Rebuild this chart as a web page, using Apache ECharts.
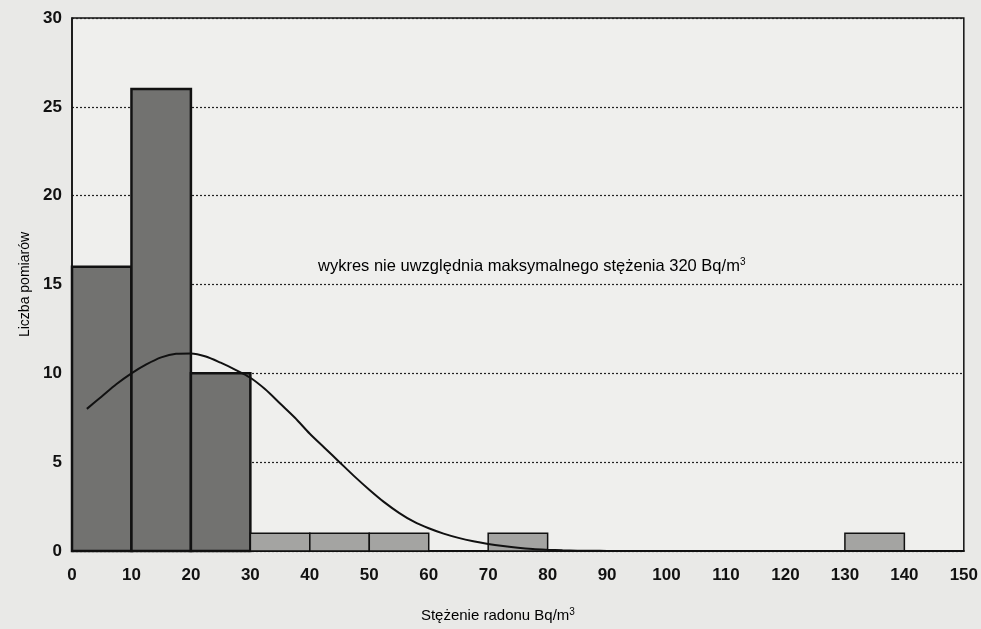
<!DOCTYPE html>
<html><head><meta charset="utf-8">
<script src="https://cdn.jsdelivr.net/npm/echarts@6/dist/echarts.min.js"></script>
<style>html,body{margin:0;padding:0;background:#e9e9e7;}#c{width:981px;height:629px;}</style>
</head><body><div id="c"></div>
<script>
// Histogram bins (Bq/m3) and counts
var binLow  = [0, 10, 20, 30, 40, 50, 70, 130];
var binHigh = [10, 20, 30, 40, 50, 60, 80, 140];
var counts  = [16, 26, 10, 1, 1, 1, 1, 1];
// Fitted normal curve
var curveX = [2.5, 5, 7.5, 10, 12.5, 15, 17.5, 20, 22.5, 25, 27.5, 30, 32.5, 35, 37.5, 40, 42.5, 45, 47.5, 50,
              52.5, 55, 57.5, 60, 62.5, 65, 67.5, 70, 72.5, 75, 77.5, 80, 82.5, 85, 87.5, 90, 92.5, 95, 97.5, 100,
              105, 110, 115, 120, 125, 130, 135, 140, 145, 148];
var curveY = [8.0, 8.7, 9.4, 10.0, 10.5, 10.9, 11.1, 11.12, 10.95, 10.6, 10.2, 9.75, 9.1, 8.3, 7.5, 6.6, 5.8, 5.0, 4.2, 3.45,
              2.75, 2.15, 1.65, 1.28, 0.98, 0.74, 0.55, 0.4, 0.28, 0.18, 0.11, 0.07, 0.04, 0.02, 0.01, 0.005, 0, 0, 0, 0,
              0, 0, 0, 0, 0, 0, 0, 0, 0, 0];
var xTicks = {min: 0, max: 150, interval: 10};
var yTicks = {min: 0, max: 30, interval: 5};

var FONT = "'Liberation Sans Narrow','Liberation Sans',Arial,sans-serif";
var chart = echarts.init(document.getElementById('c'));
var binData = binLow.map(function(l, i){ return [l, binHigh[i], counts[i]]; });
var curveData = curveX.map(function(x, i){ return [x, curveY[i]]; });

chart.setOption({
  backgroundColor: '#e9e9e7',
  animation: false,
  grid: {left: 72, right: 15, top: 18, bottom: 78, show: true, backgroundColor: '#efefed', borderColor: '#111', borderWidth: 1.5},
  xAxis: {
    type: 'value', min: xTicks.min, max: xTicks.max, interval: xTicks.interval,
    name: 'Stężenie radonu Bq/m{s|3}', nameLocation: 'middle', nameGap: 56,
    nameTextStyle: {fontFamily: FONT, fontSize: 15, color: '#000', padding: [0, 40, 0, 0],
      rich: {s: {fontFamily: FONT, fontSize: 10, verticalAlign: 'top', padding: [0, 0, 8, 0], color: '#000'}}},
    axisLine: {show: true, lineStyle: {color: '#111', width: 2}},
    axisTick: {show: false},
    axisLabel: {fontFamily: FONT, fontSize: 17, fontWeight: 'bold', color: '#111', margin: 16},
    splitLine: {show: false}
  },
  yAxis: {
    type: 'value', min: yTicks.min, max: yTicks.max, interval: yTicks.interval,
    name: 'Liczba pomiarów', nameLocation: 'middle', nameGap: 38,
    nameTextStyle: {fontFamily: FONT, fontSize: 14, color: '#000'},
    axisLine: {show: true, lineStyle: {color: '#111', width: 1.5}},
    axisTick: {show: false},
    axisLabel: {fontFamily: FONT, fontSize: 17, fontWeight: 'bold', color: '#111', margin: 10},
    splitLine: {show: true, lineStyle: {type: [2, 2], color: '#222', width: 1.2}}
  },
  series: [
    {
      type: 'custom',
      data: binData,
      encode: {x: [0, 1], y: 2},
      renderItem: function(params, api){
        var p0 = api.coord([api.value(0), api.value(2)]);
        var p1 = api.coord([api.value(1), 0]);
        var dark = params.dataIndex < 3;
        return {
          type: 'rect',
          shape: {x: p0[0], y: p0[1], width: p1[0] - p0[0], height: p1[1] - p0[1]},
          style: {fill: dark ? '#727270' : '#a4a4a2', stroke: '#111', lineWidth: dark ? 2.5 : 1.5}
        };
      },
      z: 2
    },
    {
      type: 'line',
      data: curveData,
      smooth: 0.3,
      showSymbol: false,
      lineStyle: {color: '#111', width: 2},
      z: 3
    }
  ],
  graphic: [{
    type: 'text', left: 318, top: 257,
    style: {
      text: 'wykres nie uwzględnia maksymalnego stężenia 320 Bq/m{s|3}',
      rich: {s: {fontFamily: FONT, fontSize: 10, verticalAlign: 'top', padding: [0, 0, 8, 0], fill: '#000'}},
      fontFamily: FONT, fontSize: 16.5, fill: '#000'
    }
  }]
});
</script></body></html>
